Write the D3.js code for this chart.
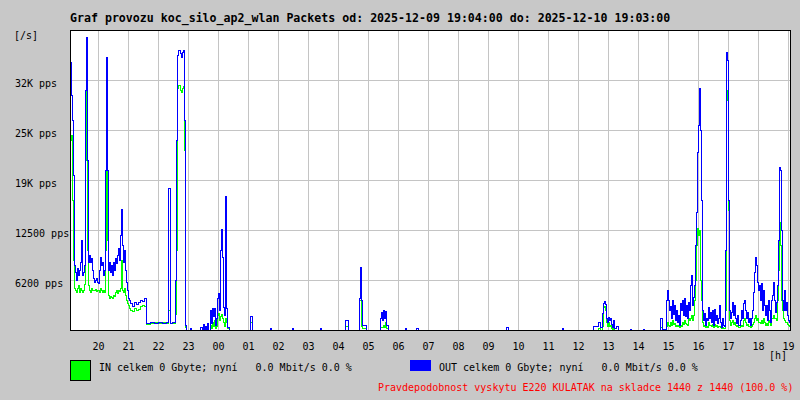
<!DOCTYPE html>
<html><head><meta charset="utf-8">
<script src="https://cdn.jsdelivr.net/npm/d3@7"></script>
<style>
html,body{margin:0;padding:0;background:#c8c8c8;}
svg{display:block;}
text{font-family:"DejaVu Sans Mono",monospace;white-space:pre;}
</style></head><body>
<svg id="chart" width="800" height="400"></svg>
<script>
const title = "Graf provozu koc_silo_ap2_wlan Packets od: 2025-12-09 19:04:00 do: 2025-12-10 19:03:00";
const yUnit = "[/s]";
const xUnit = "[h]";
const yTickValues = [6250, 12500, 18750, 25000, 31250];
const yTickLabels = ["6200 pps", "12500 pps", "19K pps", "25K pps", "32K pps"];
const legendIn = "IN celkem 0 Gbyte; nyní   0.0 Mbit/s 0.0 %";
const legendOut = "OUT celkem 0 Gbyte; nyní   0.0 Mbit/s 0.0 %";
const footer = "Pravdepodobnost vyskytu E220 KULATAK na skladce 1440 z 1440 (100.0 %)";

// minutes after 2025-12-09 19:04
const minutes = [
  0,2,4,6,8,10,12,14,16,18,
  20,22,24,26,28,30,32,34,36,38,
  40,42,44,46,48,50,52,54,56,58,
  60,62,64,66,68,70,72,74,76,78,
  80,82,84,86,88,90,92,94,96,98,
  100,102,104,106,108,110,112,114,116,118,
  120,124,128,132,136,140,144,148,152,160,
  168,176,184,192,196,200,204,210,212,214,
  216,220,222,224,226,228,230,232,240,242,
  260,264,266,268,270,272,274,276,280,282,
  284,286,288,290,292,294,296,298,300,302,
  304,306,308,310,312,314,318,360,364,400,
  402,444,446,500,502,550,556,578,580,582,
  584,586,592,620,622,624,626,628,630,632,
  636,670,672,692,696,872,876,984,986,1046,
  1056,1060,1064,1066,1068,1070,1072,1074,1076,1078,
  1080,1082,1084,1086,1088,1092,1096,1120,1122,1146,
  1148,1180,1184,1192,1194,1196,1198,1200,1202,1204,
  1206,1208,1210,1212,1214,1216,1218,1220,1222,1224,
  1226,1228,1230,1232,1234,1236,1238,1240,1242,1244,
  1246,1248,1250,1252,1254,1256,1258,1260,1262,1264,
  1266,1268,1270,1272,1274,1276,1278,1280,1282,1284,
  1286,1288,1290,1292,1294,1296,1298,1300,1302,1304,
  1306,1308,1310,1312,1314,1316,1318,1320,1322,1324,
  1326,1328,1330,1332,1334,1336,1340,1342,1344,1346,
  1348,1350,1352,1354,1356,1358,1360,1362,1364,1366,
  1368,1370,1372,1374,1376,1378,1380,1382,1384,1386,
  1388,1390,1392,1394,1396,1398,1400,1402,1404,1406,
  1408,1410,1412,1414,1416,1418,1420,1422,1424,1426,
  1428,1430,1432,1434,1436,1438,1440
];
const outPps = [
  33500,29400,26250,19400,8100,7250,6250,7750,6900,7500,
  8500,11250,6900,7250,8100,30000,36600,21250,8500,9400,
  8500,9000,7500,6500,6000,6250,6500,6000,5900,7500,
  9100,8100,8500,6900,7500,20000,34100,20000,7500,8500,
  7250,8100,6900,8500,7500,9000,8400,9400,10250,8750,
  11900,15100,10600,8500,10000,7500,6000,5000,4000,3750,
  3400,3000,3500,3250,3500,3750,3600,4000,875,1000,
  875,1000,875,1000,17750,875,1000,6250,23750,34400,
  35000,34600,34100,34750,35000,26250,625,0,250,0,
  375,0,750,0,500,0,875,0,2500,875,
  2750,1750,2750,625,1500,4000,4600,2500,10000,12600,
  9100,2900,1900,16750,2750,375,0,1750,0,250,
  0,250,0,250,0,1250,0,4000,7900,3750,
  625,625,0,1500,2250,1250,2500,1500,2400,625,
  0,250,0,250,0,375,0,250,0,500,
  1000,375,2100,3400,3600,3250,1500,1000,1600,1250,
  1500,750,375,1250,250,500,0,125,0,125,
  0,1500,125,3750,5000,3750,2500,3000,1500,3750,
  2000,3100,1250,2500,1000,1900,625,3400,2500,3750,
  1900,4000,1750,3100,1500,3500,2500,5600,6900,3100,
  4100,5600,10600,14750,22250,25600,30250,25000,16250,2500,
  1250,2100,625,1500,1250,2900,1500,2250,1000,2500,
  625,2600,1250,1900,875,1500,3100,1000,375,1500,
  625,500,10000,34750,33750,16250,2500,1500,2250,3500,
  1900,3100,1500,875,1900,625,1250,2500,1500,3400,
  3750,2500,1500,2250,1000,1500,625,1500,2500,4750,
  7250,9100,8100,6000,5000,5600,3750,5900,2500,5000,
  3100,1900,3100,1250,3750,2500,1000,3750,4400,6000,
  3750,2250,3500,5600,11250,20400,20000,12500,3750,2500,
  5000,2500,3500,1900,1250,1000,1000
];
const inPps = [
  23750,24400,16250,8750,5250,5000,4750,5250,5600,4750,
  5250,5000,4750,5000,5750,21250,30900,10000,5600,5000,
  4750,5250,5000,5000,5000,5100,4900,5000,5000,4750,
  5250,5000,4750,5000,4750,10000,24100,11250,4400,4000,
  4250,4100,4000,4400,4250,4750,5000,4600,5000,4900,
  5250,8750,5000,4750,5250,4400,3750,3400,3100,2750,
  2500,2400,2750,2500,2600,3000,3100,3000,750,875,
  1000,875,1000,875,2500,875,875,2000,10000,30250,
  30600,30000,29750,30250,30500,22500,375,0,0,0,
  0,0,250,0,0,0,125,0,625,250,
  1000,500,1250,250,500,1900,2100,1250,1750,2000,
  1500,1000,500,1500,1000,250,0,1000,0,0,
  0,0,0,0,0,500,0,3750,3750,500,
  250,250,0,375,375,375,625,375,1000,250,
  0,0,0,0,0,0,0,0,0,0,
  250,0,500,2900,3000,2500,1000,500,1000,500,
  625,250,125,250,0,0,0,0,0,0,
  0,375,0,500,1000,625,500,1000,625,1250,
  750,875,500,625,500,625,375,625,500,1000,
  750,1250,875,750,625,1500,1250,1500,1900,1250,
  1900,3750,6250,10600,12750,11900,12500,6250,3750,1000,
  500,625,375,500,375,1000,625,625,500,750,
  375,750,500,625,375,500,500,375,250,375,
  250,250,2500,28750,30000,15000,1250,625,1000,1250,
  750,1000,625,500,625,375,500,625,500,1250,
  1500,1000,625,750,500,500,375,500,750,1000,
  1500,1900,1250,1500,1000,1000,875,1250,875,1500,
  1000,625,875,625,1250,1000,625,1500,1500,1900,
  1500,1500,1250,3750,7500,13500,10600,3750,2500,1500,
  1250,1000,1000,750,625,500,500
];

const start = new Date(2025, 11, 9, 19, 4);
const end = new Date(2025, 11, 10, 19, 4);
const L = 70, R = 790, T = 30, B = 330;
const svg = d3.select("#chart");
const x = d3.scaleTime().domain([start, end]).range([L, R]);
const y = d3.scaleLinear().domain([0, 37500]).range([B, T]);
const t = m => new Date(start.getTime() + m * 60000);

svg.append("rect").attr("width", 800).attr("height", 400).attr("fill", "#c8c8c8");
svg.append("rect").attr("x", L).attr("y", T).attr("width", R - L).attr("height", B - T).attr("fill", "#ffffff");

// x grid + labels
const gx = svg.append("g").attr("transform", `translate(0,${B})`)
  .call(d3.axisBottom(x).ticks(d3.timeHour.every(1)).tickFormat(d3.timeFormat("%H")).tickSize(-(B - T)));
gx.attr("font-family", null).attr("font-size", null);
gx.select(".domain").remove();
gx.selectAll(".tick line").attr("stroke", "#c4c4c4").attr("shape-rendering", "crispEdges");
gx.selectAll(".tick text").attr("y", 20).attr("dy", null).attr("fill", "#000")
  .style("font-size", "10px").attr("text-anchor", "middle");

// y grid + labels
const gy = svg.append("g").attr("transform", `translate(${L},0)`)
  .call(d3.axisLeft(y).tickValues(yTickValues).tickFormat((d, i) => yTickLabels[i]).tickSize(-(R - L)));
gy.attr("font-family", null).attr("font-size", null);
gy.select(".domain").remove();
gy.selectAll(".tick line").attr("stroke", "#c4c4c4").attr("shape-rendering", "crispEdges");
gy.selectAll(".tick text").attr("x", 15 - L).attr("dy", null).attr("y", 6).attr("fill", "#000")
  .attr("text-anchor", "start").style("font-size", "10px");

// series (IN first, OUT drawn over it)
const idx = d3.range(minutes.length);
const mk = vals => d3.line().x(i => x(t(minutes[i]))).y(i => y(vals[i])).curve(d3.curveStepAfter);
const plot = svg.append("g").attr("transform", "translate(0.5,0.5)");
plot.append("path").attr("d", mk(inPps)(idx)).attr("fill", "none").attr("stroke", "#00ff00")
  .attr("stroke-width", 1).attr("shape-rendering", "crispEdges");
plot.append("path").attr("d", mk(outPps)(idx)).attr("fill", "none").attr("stroke", "#0000ff")
  .attr("stroke-width", 1).attr("shape-rendering", "crispEdges");

// frame
svg.append("rect").attr("x", L + 0.5).attr("y", T + 0.5).attr("width", R - L).attr("height", B - T)
  .attr("fill", "none").attr("stroke", "#000").attr("shape-rendering", "crispEdges");

// texts
svg.append("text").attr("x", 70).attr("y", 22).text(title)
  .style("font-size", "11.6px").style("font-weight", "bold");
svg.append("text").attr("x", 14).attr("y", 39).text(yUnit).style("font-size", "10px");
svg.append("text").attr("x", 769).attr("y", 359).text(xUnit).style("font-size", "10px");

svg.append("rect").attr("x", 70.5).attr("y", 360.5).attr("width", 20).attr("height", 20)
  .attr("fill", "#00ff00").attr("stroke", "#000").attr("shape-rendering", "crispEdges");
svg.append("text").attr("x", 99).attr("y", 371).text(legendIn).style("font-size", "10px");
svg.append("rect").attr("x", 410).attr("y", 360).attr("width", 21).attr("height", 11).attr("fill", "#0000ff");
svg.append("text").attr("x", 439).attr("y", 371).text(legendOut).style("font-size", "10px");
svg.append("text").attr("x", 378).attr("y", 391).text(footer).attr("fill", "#ff0000").style("font-size", "10px");
</script>
</body></html>
